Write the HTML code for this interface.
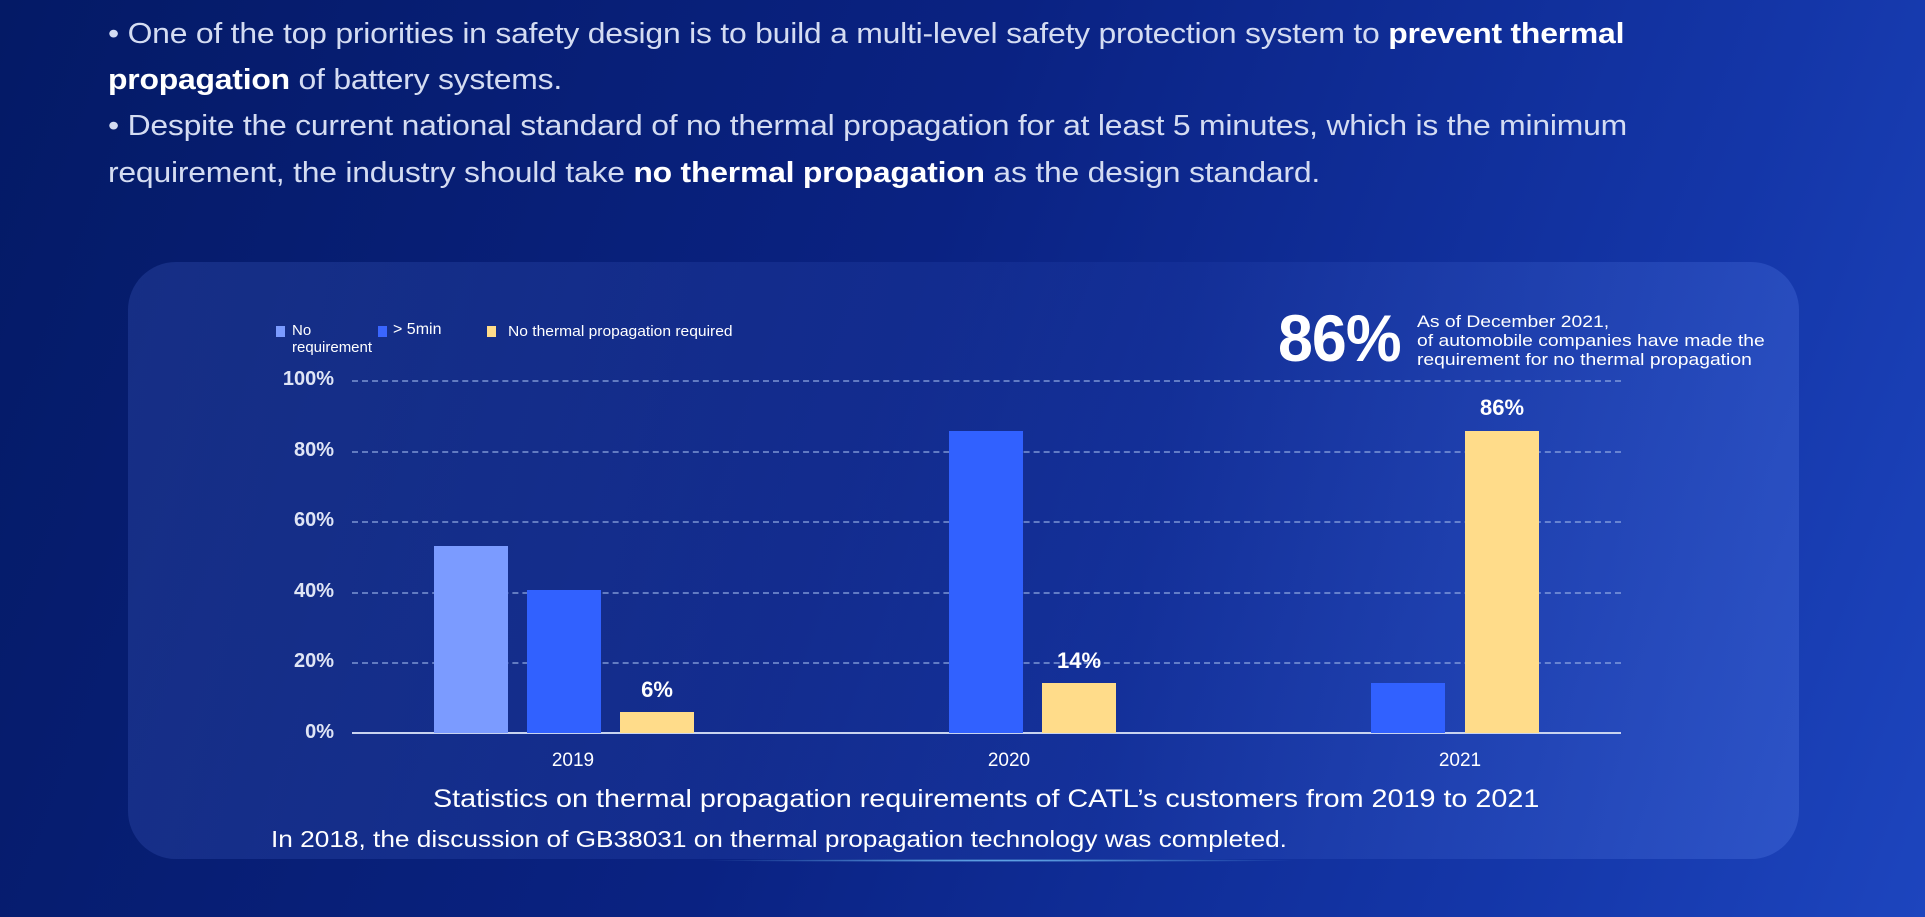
<!DOCTYPE html>
<html><head><meta charset="utf-8"><style>
*{margin:0;padding:0;box-sizing:border-box}
body{width:1925px;height:917px;overflow:hidden;position:relative;font-family:"Liberation Sans",sans-serif;
background:linear-gradient(110deg,#041a66 0%,#0a2282 45%,#1436a8 80%,#1d45be 100%);}
.t{position:absolute;left:108px;color:#d4dcf2;font-size:29px;white-space:nowrap;letter-spacing:-0.2px;transform:scaleX(1.1);transform-origin:left top}
.t b{color:#fff}
.panel{position:absolute;left:128px;top:262px;width:1671px;height:597px;border-radius:48px;
background:linear-gradient(100deg,rgba(60,90,190,0.3),rgba(40,70,180,0.2) 60%,rgba(80,120,230,0.35));}
.a{position:absolute;color:#fff;white-space:nowrap;transform-origin:left top}
.g{position:absolute;left:352px;width:1269px;border-top:2px dashed rgba(150,175,230,0.6)}
.yl{position:absolute;left:260px;width:74px;text-align:right;color:#dfe5f5;font-weight:bold;font-size:20px}
.bar{position:absolute;width:74px;bottom:184px}
.v{position:absolute;color:#fff;font-weight:bold;font-size:22px;width:74px;text-align:center}
.yr{position:absolute;color:#fff;font-size:19px;width:120px;text-align:center;top:750px}
.sq{position:absolute;width:9px;height:11px;top:326px}
</style></head><body>
<div class="t" style="top:18px">• One of the top priorities in safety design is to build a multi-level safety protection system to <b>prevent thermal</b></div>
<div class="t" style="top:64px"><b>propagation</b> of battery systems.</div>
<div class="t" style="top:110px">• Despite the current national standard of no thermal propagation for at least 5 minutes, which is the minimum</div>
<div class="t" style="top:157px">requirement, the industry should take <b>no thermal propagation</b> as the design standard.</div>
<div class="panel"></div>
<div class="sq" style="left:276px;background:#7b9bff"></div>
<div class="a" style="left:292px;top:322px;font-size:15px;line-height:17px">No<br>requirement</div>
<div class="sq" style="left:378px;background:#3a66ff"></div>
<div class="a" style="left:393px;top:321px;font-size:16px">&gt; 5min</div>
<div class="sq" style="left:487px;background:#ffdc8a"></div>
<div class="a" style="left:508px;top:323px;font-size:15px;transform:scaleX(1.04)">No thermal propagation required</div>
<div class="a" style="left:1278px;top:300px;font-size:66px;font-weight:bold;letter-spacing:-1px;transform:scaleX(0.95)">86%</div>
<div class="a" style="left:1417px;top:313px;font-size:16.5px;line-height:19px;transform:scaleX(1.17)">As of December 2021,<br>of automobile companies have made the<br>requirement for no thermal propagation</div>
<div class="g" style="top:380px"></div><div class="g" style="top:451px"></div><div class="g" style="top:521px"></div>
<div class="g" style="top:592px"></div><div class="g" style="top:662px"></div>
<div style="position:absolute;left:352px;top:732px;width:1269px;height:2px;background:#c8d3f0"></div>
<div class="yl" style="top:368px">100%</div><div class="yl" style="top:439px">80%</div><div class="yl" style="top:509px">60%</div>
<div class="yl" style="top:580px">40%</div><div class="yl" style="top:650px">20%</div><div class="yl" style="top:721px">0%</div>
<div class="bar" style="left:434px;height:187px;background:#7b9bff"></div>
<div class="bar" style="left:527px;height:143px;background:#3161ff"></div>
<div class="bar" style="left:620px;height:21px;background:#ffdc8a"></div>
<div class="bar" style="left:949px;height:302px;background:#3161ff"></div>
<div class="bar" style="left:1042px;height:50px;background:#ffdc8a"></div>
<div class="bar" style="left:1371px;height:50px;background:#3161ff"></div>
<div class="bar" style="left:1465px;height:302px;background:#ffdc8a"></div>
<div class="v" style="left:620px;top:677px">6%</div>
<div class="v" style="left:1042px;top:648px">14%</div>
<div class="v" style="left:1465px;top:395px">86%</div>
<div class="yr" style="left:513px">2019</div><div class="yr" style="left:949px">2020</div><div class="yr" style="left:1400px">2021</div>
<div class="a" style="left:433px;top:785px;font-size:25px;transform:scaleX(1.15)">Statistics on thermal propagation requirements of CATL’s customers from 2019 to 2021</div>
<div class="a" style="left:271px;top:826px;font-size:23px;transform:scaleX(1.14)">In 2018, the discussion of GB38031 on thermal propagation technology was completed.</div>
<div style="position:absolute;left:700px;top:859px;width:600px;height:3px;background:radial-gradient(ellipse,rgba(120,200,255,0.9),rgba(120,200,255,0) 70%)"></div>
</body></html>
